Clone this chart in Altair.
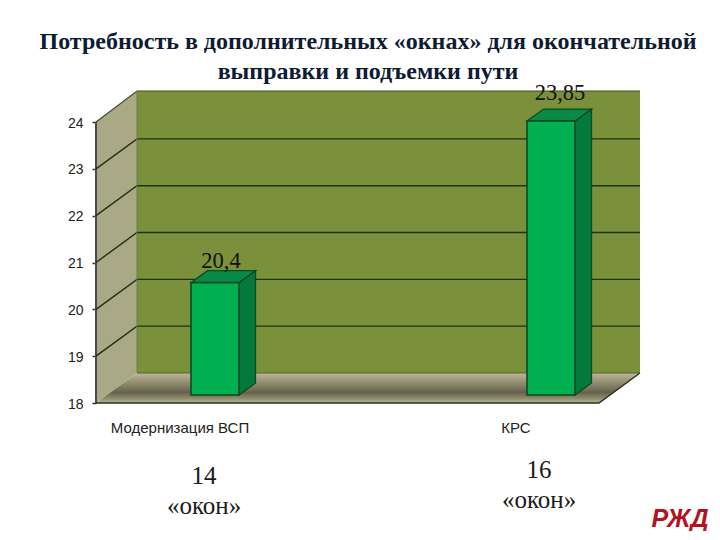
import altair as alt
import pandas as pd

categories = ["Модернизация ВСП", "КРС"]
values = [20.4, 23.85]
value_labels = ["20,4", "23,85"]
window_counts = ["14", "16"]
window_word = "«окон»"
y_ticks = [18, 19, 20, 21, 22, 23, 24]
title_lines = ["Потребность в дополнительных «окнах» для окончательной",
               "выправки и подъемки пути"]

# layout (px)
W, H = 544, 312
PX_CAT = 336.0
PX_VAL = 46.83
LEFT_U = -119 / PX_CAT          # view left relative to first category
RIGHT_U = LEFT_U + W / PX_CAT
Y0 = 18.0
Y1 = Y0 + H / PX_VAL
WALL_X = 41 / PX_CAT
WALL_Y = 30 / PX_VAL
BAR_LIFT = 8 / PX_VAL
BAR_HALF = 24 / PX_CAT
SIDE_X = 16.5 / PX_CAT
SIDE_Y = 12 / PX_VAL
FRONT_RIGHT = LEFT_U + 503 / PX_CAT

xs = alt.Scale(domain=[LEFT_U, RIGHT_U], nice=False, zero=False)
ys = alt.Scale(domain=[Y0, Y1], nice=False, zero=False)
X = alt.X("x:Q", scale=xs, axis=None)
Y = alt.Y("y:Q", scale=ys, stack=None, title=None,
          axis=alt.Axis(values=y_ticks, grid=False, domain=False,
                        tickColor="#333333", tickSize=4, tickWidth=1.5, labelPadding=9,
                        labelFont="Liberation Sans", labelFontSize=14, labelColor="#222222",
                        labelOffset=1, title=None))
Y2 = alt.Y2("y2:Q")

LINE = "#1e3212"
BAR_LINE = "#0b4a22"


def band(rows, fill, stroke=None, sw=0):
    kw = dict(orient="vertical", color=fill, strokeWidth=sw)
    if stroke:
        kw["stroke"] = stroke
    return alt.Chart(pd.DataFrame(rows, columns=["x", "y", "y2"])).mark_area(**kw).encode(x=X, y=Y, y2=Y2)


def box(x0, x1, y0, y1, fill, stroke=None, sw=0):
    d = pd.DataFrame([dict(x=x0, x2=x1, y=y0, y2=y1)])
    return alt.Chart(d).mark_rect(color=fill, stroke=stroke or fill, strokeWidth=sw).encode(
        x=X, x2="x2:Q", y=Y, y2=Y2)


def poly_outline(points, color, sw):
    d = pd.DataFrame([dict(x=p[0], y=p[1], o=i) for i, p in enumerate(points)])
    return alt.Chart(d).mark_line(color=color, strokeWidth=sw).encode(x=X, y=Y, order="o:Q")


layers = []
back_left = LEFT_U + WALL_X
# left wall
layers.append(band([(LEFT_U, Y0, 24), (back_left, Y0 + WALL_Y, Y1)], "#a9a985"))
# back wall
layers.append(box(back_left, RIGHT_U, Y0 + WALL_Y, Y1, "#7b903b"))
# floor
floor_fill = alt.LinearGradient(gradient="linear", x1=0, y1=0, x2=0, y2=1, stops=[
    alt.GradientStop(color="#bdb896", offset=0),
    alt.GradientStop(color="#a29d7e", offset=0.2),
    alt.GradientStop(color="#66624c", offset=0.65),
    alt.GradientStop(color="#8f8d6c", offset=0.85),
    alt.GradientStop(color="#b9b995", offset=1)])
layers.append(band([(LEFT_U, Y0, Y0), (back_left, Y0, Y0 + WALL_Y),
                    (FRONT_RIGHT, Y0, Y0 + WALL_Y), (RIGHT_U, Y0 + WALL_Y, Y0 + WALL_Y)], floor_fill))
# value axis line
layers.append(poly_outline([(LEFT_U, Y0), (LEFT_U, 24)], "#4a4a4a", 2))
# grid lines
grid = []
for t in y_ticks[:-1]:
    for i, (a, b) in enumerate([(LEFT_U, t), (back_left, t + WALL_Y), (RIGHT_U, t + WALL_Y)]):
        grid.append(dict(level=t, o=i, x=a, y=b))
grid_df = pd.DataFrame(grid)
layers.append(alt.Chart(grid_df[grid_df.level > 18]).mark_line(color=LINE, strokeWidth=1.4).encode(
    x=X, y=Y, detail="level:N", order="o:Q"))
layers.append(poly_outline([(LEFT_U, 24), (back_left, Y1), (RIGHT_U, Y1)], "#3c4f20", 1.2))
layers.append(poly_outline([(LEFT_U, Y0), (FRONT_RIGHT, Y0), (RIGHT_U, Y0 + WALL_Y)], "#2b2b1c", 1.4))
layers.append(poly_outline([(back_left, Y0 + WALL_Y), (RIGHT_U, Y0 + WALL_Y)], "#55603a", 1))
layers.append(poly_outline([(back_left, Y0 + WALL_Y), (back_left, Y1)], "#6f7f45", 1))

# bars
for i, v in enumerate(values):
    x0, x1 = i - BAR_HALF, i + BAR_HALF
    base = Y0 + BAR_LIFT
    top = v + BAR_LIFT
    layers.append(band([(x1, base, top), (x1 + SIDE_X, base + SIDE_Y, top + SIDE_Y)],
                       "#037a3c", BAR_LINE, 1.3))
    layers.append(band([(x0, top, top), (x0 + SIDE_X, top, top + SIDE_Y),
                        (x1, top, top + SIDE_Y), (x1 + SIDE_X, top + SIDE_Y, top + SIDE_Y)],
                       "#078a45", BAR_LINE, 1.3))
    layers.append(box(x0, x1, base, top, "#00b050", BAR_LINE, 1.6))


def text_at(x, y, text, dx=0, dy=0, **kw):
    base = dict(font="Liberation Serif", fontSize=21, color="#111111", align="center", baseline="alphabetic")
    base.update(kw)
    d = pd.DataFrame([dict(x=x, y=y, t=text)])
    return alt.Chart(d).mark_text(dx=dx, dy=dy, **base).encode(x=X, y=Y, text="t:N")


# value labels
label_dx = [6, 9]
label_dy = [-15, -21]
for i, v in enumerate(values):
    layers.append(text_at(i, v + BAR_LIFT, value_labels[i], dx=label_dx[i], dy=label_dy[i], fontSize=22.5))

# category labels
for i, c in enumerate(categories):
    layers.append(text_at(i, Y0, c, dx=-35, dy=30, font="Liberation Sans", fontSize=15, color="#222222"))

# notes below
note_dx = [-11, -12]
note_dy = [81, 75]
for i, n in enumerate(window_counts):
    layers.append(text_at(i, Y0, n, dx=note_dx[i], dy=note_dy[i], color="#1a1a1a", fontSize=25))
    layers.append(text_at(i, Y0, window_word, dx=note_dx[i], dy=note_dy[i] + 30, color="#1a1a1a", fontSize=25))

# logo
layers.append(text_at(1, Y0, "РЖД", dx=129, dy=124, font="Liberation Sans", fontSize=25,
                      fontWeight="bold", fontStyle="italic", color="#b5121b"))

chart = alt.layer(*layers).properties(
    width=W, height=H,
    autosize=alt.AutoSizeParams(type="none"),
    padding={"left": 88, "top": 83, "right": 70, "bottom": 128},
    background="white",
    title=alt.TitleParams(text=title_lines, anchor="middle", font="Liberation Serif", fontSize=24,
                          fontWeight="bold", color="#0d1b33", lineHeight=30, offset=-2, frame="group"),
).configure_view(stroke=None)

chart.save("out.html", embed_options={"renderer": "svg", "actions": False})
